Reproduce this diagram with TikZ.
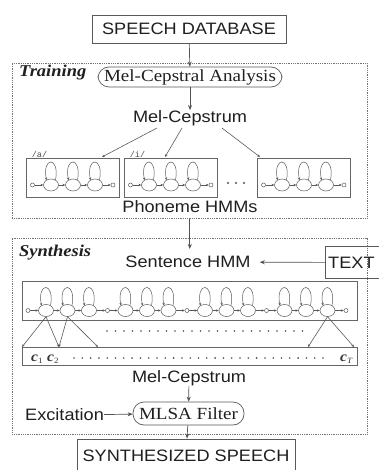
\documentclass[tikz,border=0pt]{standalone}
\usepackage{fontspec}
\setmainfont{Liberation Serif}[FakeStretch=1.12]
\setsansfont{Liberation Sans}[FakeStretch=1.1]
\setmonofont{Liberation Mono}
\usetikzlibrary{arrows.meta,calc,shapes.geometric}

\newcommand\sfbig{\sffamily\fontsize{16.5}{18}\selectfont}
\newcommand\rmbig{\rmfamily\fontsize{17}{19}\selectfont}
\newcommand\rmbi{\rmfamily\bfseries\itshape\fontsize{16.5}{18}\selectfont}

\tikzset{
  ink/.style={draw=black!68, line width=0.7pt},
  arr/.style={ink, -{Stealth[length=5pt,width=4pt]}},
  sarr/.style={draw=black!65, line width=0.5pt, -{Stealth[length=2.8pt,width=2.4pt]}},
  sqbox/.style={draw=black!65, line width=0.9pt, inner sep=0pt, text=black!88},
  pill/.style={draw=black!65, line width=0.7pt, rounded corners=11pt, inner sep=0pt, text=black!88, font=\rmbig},
  lbl/.style={inner sep=0pt, text=black!88, font=\sfbig},
  dbox/.style={draw=black!55, line width=0.5pt, dash pattern=on 1pt off 0.8pt, inner sep=0pt},
  hbox/.style={draw=black!60, line width=0.8pt, inner sep=0pt},
  st/.style={ellipse, draw=black!65, line width=0.5pt, minimum width=15pt, minimum height=12pt, inner sep=0pt},
  sm/.style={circle, draw=black!65, line width=0.5pt, minimum size=4pt, inner sep=0pt},
  dt/.style={fill=black!70},
}

% one emitting state with its self-loop
\newcommand\hmmst[3]{%
  \node[st] (#1) at (#2,#3) {};
  \draw[sarr] ($(#1.center)+(4.5,-4.8)$) .. controls +(4.5,-24) and +(-4.5,-24) .. ($(#1.center)+(-4.5,-4.8)$);
}

% a left-to-right phoneme model in its frame; #1 name, #2 left, #3 top
\newcommand\phonemebox[3]{%
  \node[hbox, anchor=north west, minimum width=93pt, minimum height=39pt] (#1) at (#2,#3) {};
  \node[sm] (#1s) at (#2+6.5,#3+27) {};
  \hmmst{#1a}{#2+25}{#3+27}
  \hmmst{#1b}{#2+47}{#3+27}
  \hmmst{#1c}{#2+69}{#3+27}
  \node[sm] (#1e) at (#2+87,#3+27) {};
  \draw[sarr] (#1s) -- (#1a);
  \draw[sarr] (#1a) -- (#1b);
  \draw[sarr] (#1b) -- (#1c);
  \draw[sarr] (#1c) -- (#1e);
}

\begin{document}
\begin{tikzpicture}[x=1pt, y=-1pt]
\useasboundingbox (0,0) rectangle (378,470);

% ---------- frames ----------
\node[dbox, anchor=north west, minimum width=355pt, minimum height=155pt] (train) at (12,63) {};
\node[dbox, anchor=north west, minimum width=355pt, minimum height=196pt] (synth) at (12,238) {};
\node[anchor=base west, inner sep=0pt, text=black!88, font=\rmbi] (trainlbl) at (19,77) {Training};
\node[anchor=base west, inner sep=0pt, text=black!88, font=\rmbi] (synthlbl) at (19,256) {Synthesis};

% ---------- training ----------
\node[sqbox, font=\sfbig, minimum width=194pt, minimum height=28pt] (db) at (189,29) {SPEECH DATABASE};
\node[pill, minimum width=184pt, minimum height=20pt] (mca) at (190,77) {Mel-Cepstral Analysis};
\node[lbl] (mc1) at (190,118) {Mel-Cepstrum};
\draw[arr] (db) -- (mca);
\draw[arr] (mca) -- (mc1);

\phonemebox{pa}{26}{158}
\phonemebox{pi}{124}{158}
\phonemebox{pz}{257}{158}
\node[anchor=south west, inner sep=0.6pt, text=black!70, font=\ttfamily\fontsize{8.5}{9}\selectfont] (lbla) at ($(pa.north west)+(5,0)$) {/a/};
\node[anchor=south west, inner sep=0.6pt, text=black!70, font=\ttfamily\fontsize{8.5}{9}\selectfont] (lbli) at ($(pi.north west)+(5,0)$) {/i/};
\foreach \x in {228,236,244} \fill[dt] (\x,183) circle (1.1pt);

\coordinate (f1) at (157,128);
\coordinate (f2) at (182,128);
\coordinate (f3) at (222,128);
\coordinate (g1) at (102,157);
\coordinate (g2) at (165,157);
\coordinate (g3) at (260,157);
\draw[sarr, line width=0.6pt] (f1) -- (g1);
\draw[sarr, line width=0.6pt] (f2) -- (g2);
\draw[sarr, line width=0.6pt] (f3) -- (g3);

\node[lbl] (phm) at (190,207) {Phoneme HMMs};

% ---------- synthesis ----------
\node[lbl] (shmm) at (188,262) {Sentence HMM};
\draw[arr, shorten >=7pt] (train.south) -- (shmm.north -| train.south);
% the TEXT box runs on past the right margin, so only three sides are drawn
\node[font=\sfbig, text=black!88, anchor=west, minimum width=80pt, minimum height=31pt, align=left, text width=74pt, inner sep=0pt, inner xsep=3pt] (txt) at (325,262.5) {TEXT};
\draw[draw=black!65, line width=0.9pt] (txt.north east) -- (txt.north west) -- (txt.south west) -- (txt.south east);
\draw[arr, shorten >=9pt] (txt) -- (shmm);

\node[hbox, anchor=north west, minimum width=335pt, minimum height=39pt] (sbox) at (22,281) {};
\node[sm] (sm0) at (28,310.5) {};
\foreach \g in {0,1,2,3} {
  \pgfmathsetmacro\gx{46+79.5*\g}
  \pgfmathtruncatemacro\gp{\g}
  \pgfmathtruncatemacro\gn{\g+1}
  \hmmst{t\gp a}{\gx}{310.5}
  \hmmst{t\gp b}{\gx+21.5}{310.5}
  \hmmst{t\gp c}{\gx+43}{310.5}
  \node[sm] (sm\gn) at (\gx+61.5,310.5) {};
  \draw[sarr] (sm\gp) -- (t\gp a);
  \draw[sarr] (t\gp a) -- (t\gp b);
  \draw[sarr] (t\gp b) -- (t\gp c);
  \draw[sarr] (t\gp c) -- (sm\gn);
}
\foreach \i in {0,...,23} \fill[dt] (107+8.5*\i,331) circle (0.9pt);

\node[hbox, anchor=north west, minimum width=335pt, minimum height=18pt] (cbox) at (22,347) {};
\coordinate (k1) at (22,347);
\coordinate (k2) at (59,347);
\coordinate (k3) at (98,347);
\coordinate (k4) at (308,347);
\coordinate (k5) at (354,347);
\draw[sarr, line width=0.6pt] (t0a.south) -- (k1);
\draw[sarr, line width=0.6pt] (t0a.south) -- (k2);
\draw[sarr, line width=0.6pt] (t0b.south) -- (k2);
\draw[sarr, line width=0.6pt] (t0b.south) -- (k3);
\draw[sarr, line width=0.6pt] (t3c.south) -- (k4);
\draw[sarr, line width=0.6pt] (t3c.south) -- (k5);

\node[anchor=base west, inner sep=0pt, text=black!80, font=\rmfamily\fontsize{14}{14}\selectfont] (c1) at (31,361)
  {\textbf{\textit{c}}\raisebox{-2pt}{\fontsize{8}{8}\selectfont 1}};
\node[anchor=base west, inner sep=0pt, text=black!80, font=\rmfamily\fontsize{14}{14}\selectfont] (c2) at (47,361)
  {\textbf{\textit{c}}\raisebox{-2pt}{\fontsize{8}{8}\selectfont 2}};
\node[anchor=base west, inner sep=0pt, text=black!80, font=\rmfamily\fontsize{14}{14}\selectfont] (cT) at (340,361)
  {\textbf{\textit{c}}\raisebox{-2pt}{\fontsize{8}{8}\selectfont\textit{T}}};
\foreach \i in {0,...,30} \fill[dt] (74+8.3*\i,358) circle (0.9pt);

\node[lbl] (mc2) at (189,378) {Mel-Cepstrum};
\node[pill, minimum width=111pt, minimum height=23pt] (mlsa) at (188.5,413.5) {MLSA Filter};
\node[lbl, anchor=west] (exc) at (25,415) {Excitation};
\draw[arr] (mc2) -- (mlsa);
\draw[arr] (exc) -- (mlsa);

\node[sqbox, font=\sfbig, minimum width=218pt, minimum height=33pt] (out) at (186,455.5) {SYNTHESIZED SPEECH};
\draw[arr] (mlsa) -- (out);
\end{tikzpicture}
\end{document}
